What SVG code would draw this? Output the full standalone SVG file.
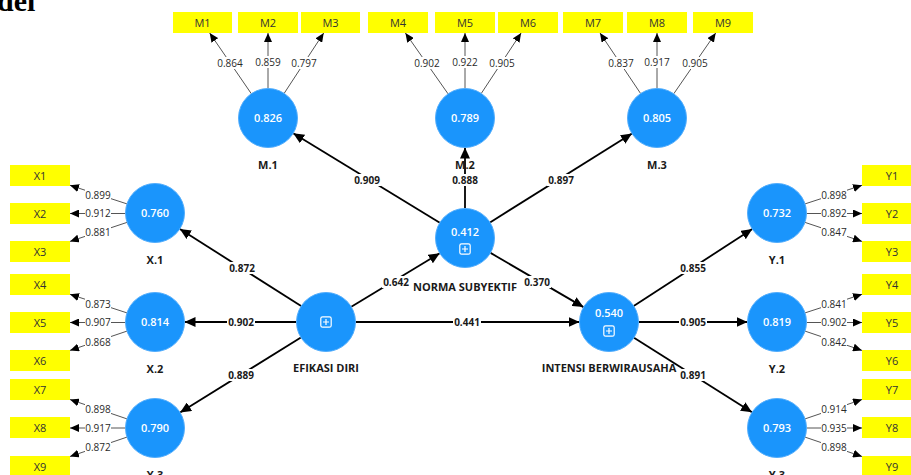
<svg xmlns="http://www.w3.org/2000/svg" width="911" height="475" viewBox="0 0 911 475">
<style>
text{font-family:"Open Sans","Noto Sans","Liberation Sans",sans-serif}
.ind{fill:#ffff00}
.it{font-size:11px;fill:#333;text-anchor:middle}
.lv{fill:#1a95fc;stroke:#52adfc;stroke-width:1}
.val{font-size:11px;font-weight:600;fill:#fff;text-anchor:middle}
.nl{font-size:11px;font-weight:700;fill:#1a1a1a;text-anchor:middle}
.path{stroke:#000;stroke-width:1.8;fill:none;marker-end:url(#ah)}
.load{stroke:#555;stroke-width:1;fill:none;marker-end:url(#ah2)}
.bg{fill:#fff}
.pl{font-size:10px;font-weight:700;fill:#1a1a1a;text-anchor:middle}
.ll{font-size:10px;fill:#2a2a2a;text-anchor:middle}
.ico{fill:none;stroke:#fff;stroke-width:1.2}
</style>
<defs>
<marker id="ah" markerUnits="userSpaceOnUse" markerWidth="12" markerHeight="10" refX="11" refY="5" orient="auto"><path d="M0,0 L11,5 L0,10 Z" fill="#000"/></marker>
<marker id="ah2" markerUnits="userSpaceOnUse" markerWidth="10" markerHeight="8" refX="9" refY="4" orient="auto"><path d="M0,0 L9,4 L0,8 Z" fill="#000"/></marker>
<symbol id="plus" viewBox="0 0 12 12"><rect class="ico" x="0.8" y="0.8" width="10.4" height="10.4" rx="1.8"/><path class="ico" d="M6,3 V9 M3,6 H9"/></symbol>
</defs>
<text x="-3" y="11" style="font-family:'Liberation Serif',serif;font-size:30px;font-weight:700" fill="#000">del</text>

<g id="connectors">
<line class="path" x1="301.1" y1="306.1" x2="179.9" y2="228.9"/>
<line class="path" x1="296.5" y1="322" x2="184.5" y2="322"/>
<line class="path" x1="300.9" y1="337.5" x2="180.1" y2="412.5"/>
<line class="path" x1="351.3" y1="306.7" x2="439.7" y2="253.3"/>
<line class="path" x1="355.5" y1="322" x2="579.5" y2="322"/>
<line class="path" x1="439.8" y1="222.7" x2="293.2" y2="133.3"/>
<line class="path" x1="465" y1="208.5" x2="465" y2="147.5"/>
<line class="path" x1="490.0" y1="222.4" x2="632.0" y2="133.6"/>
<line class="path" x1="490.5" y1="252.9" x2="583.5" y2="307.1"/>
<line class="path" x1="633.7" y1="306.0" x2="752.3" y2="229.0"/>
<line class="path" x1="638.5" y1="322" x2="747.5" y2="322"/>
<line class="path" x1="634.0" y1="337.7" x2="752.0" y2="412.3"/>

<line class="load" x1="251.3" y1="93.7" x2="209.7" y2="33"/>
<line class="load" x1="268" y1="88.5" x2="268" y2="33"/>
<line class="load" x1="284.2" y1="93.3" x2="323.7" y2="33"/>
<line class="load" x1="448.1" y1="93.9" x2="405.4" y2="33"/>
<line class="load" x1="465" y1="88.5" x2="465" y2="33"/>
<line class="load" x1="481.3" y1="93.4" x2="521.1" y2="33"/>
<line class="load" x1="640.6" y1="93.5" x2="600" y2="33"/>
<line class="load" x1="657" y1="88.5" x2="657" y2="33"/>
<line class="load" x1="673.8" y1="93.7" x2="715.7" y2="33"/>

<line class="load" x1="127" y1="203.9" x2="70" y2="185.3"/>
<line class="load" x1="125.5" y1="213.5" x2="70" y2="213.5"/>
<line class="load" x1="127" y1="222.4" x2="70" y2="241.4"/>
<line class="load" x1="127" y1="312.9" x2="70" y2="294.3"/>
<line class="load" x1="125.5" y1="322.5" x2="70" y2="322.5"/>
<line class="load" x1="127" y1="331.1" x2="70" y2="350.4"/>
<line class="load" x1="127" y1="418.9" x2="70" y2="399.5"/>
<line class="load" x1="125.5" y1="428" x2="70" y2="428"/>
<line class="load" x1="127" y1="437.1" x2="70" y2="456.5"/>

<line class="load" x1="805" y1="203.9" x2="862" y2="185.3"/>
<line class="load" x1="806.5" y1="213.5" x2="862" y2="213.5"/>
<line class="load" x1="805" y1="222.4" x2="862" y2="241.4"/>
<line class="load" x1="805" y1="312.9" x2="862" y2="294.3"/>
<line class="load" x1="806.5" y1="322.5" x2="862" y2="322.5"/>
<line class="load" x1="805" y1="331.1" x2="862" y2="350.4"/>
<line class="load" x1="805" y1="418.9" x2="862" y2="399.5"/>
<line class="load" x1="806.5" y1="428" x2="862" y2="428"/>
<line class="load" x1="805" y1="437.1" x2="862" y2="456.5"/>

<g id="path-labels">
<rect class="bg" x="228" y="262" width="28" height="12"/><text class="pl" x="242" y="272">0.872</text>
<rect class="bg" x="227" y="316" width="28" height="12"/><text class="pl" x="241" y="326">0.902</text>
<rect class="bg" x="227" y="369" width="28" height="12"/><text class="pl" x="241" y="379">0.889</text>
<rect class="bg" x="382" y="276" width="28" height="12"/><text class="pl" x="396" y="286">0.642</text>
<rect class="bg" x="453" y="316" width="28" height="12"/><text class="pl" x="467" y="326">0.441</text>
<rect class="bg" x="353" y="174" width="28" height="12"/><text class="pl" x="367" y="184">0.909</text>
<rect class="bg" x="451" y="174" width="28" height="12"/><text class="pl" x="465" y="184">0.888</text>
<rect class="bg" x="547" y="174" width="28" height="12"/><text class="pl" x="561" y="184">0.897</text>
<rect class="bg" x="523" y="276" width="28" height="12"/><text class="pl" x="537" y="286">0.370</text>
<rect class="bg" x="679" y="262" width="28" height="12"/><text class="pl" x="693" y="272">0.855</text>
<rect class="bg" x="679" y="316" width="28" height="12"/><text class="pl" x="693" y="326">0.905</text>
<rect class="bg" x="679" y="369" width="28" height="12"/><text class="pl" x="693" y="379">0.891</text>
</g>
<g id="loading-labels">
<rect class="bg" x="217" y="57" width="26" height="12"/><text class="ll" x="230" y="66.5">0.864</text>
<rect class="bg" x="255" y="56" width="26" height="12"/><text class="ll" x="268" y="65.5">0.859</text>
<rect class="bg" x="291" y="57" width="26" height="12"/><text class="ll" x="304" y="66.5">0.797</text>
<rect class="bg" x="414" y="57" width="26" height="12"/><text class="ll" x="427" y="66.5">0.902</text>
<rect class="bg" x="452" y="56" width="26" height="12"/><text class="ll" x="465" y="65.5">0.922</text>
<rect class="bg" x="489" y="57" width="26" height="12"/><text class="ll" x="502" y="66.5">0.905</text>
<rect class="bg" x="608" y="57" width="26" height="12"/><text class="ll" x="621" y="66.5">0.837</text>
<rect class="bg" x="644" y="56" width="26" height="12"/><text class="ll" x="657" y="65.5">0.917</text>
<rect class="bg" x="682" y="57" width="26" height="12"/><text class="ll" x="695" y="66.5">0.905</text>

<rect class="bg" x="85" y="189" width="26" height="12"/><text class="ll" x="98" y="198.5">0.899</text>
<rect class="bg" x="85" y="207.5" width="26" height="12"/><text class="ll" x="98" y="217">0.912</text>
<rect class="bg" x="85" y="226" width="26" height="12"/><text class="ll" x="98" y="235.5">0.881</text>
<rect class="bg" x="85" y="298" width="26" height="12"/><text class="ll" x="98" y="307.5">0.873</text>
<rect class="bg" x="85" y="316.5" width="26" height="12"/><text class="ll" x="98" y="326">0.907</text>
<rect class="bg" x="85" y="336" width="26" height="12"/><text class="ll" x="98" y="345.5">0.868</text>
<rect class="bg" x="85" y="403" width="26" height="12"/><text class="ll" x="98" y="412.5">0.898</text>
<rect class="bg" x="85" y="422" width="26" height="12"/><text class="ll" x="98" y="431.5">0.917</text>
<rect class="bg" x="85" y="441" width="26" height="12"/><text class="ll" x="98" y="450.5">0.872</text>

<rect class="bg" x="821" y="189" width="26" height="12"/><text class="ll" x="834" y="198.5">0.898</text>
<rect class="bg" x="821" y="207.5" width="26" height="12"/><text class="ll" x="834" y="217">0.892</text>
<rect class="bg" x="821" y="226" width="26" height="12"/><text class="ll" x="834" y="235.5">0.847</text>
<rect class="bg" x="821" y="298" width="26" height="12"/><text class="ll" x="834" y="307.5">0.841</text>
<rect class="bg" x="821" y="316.5" width="26" height="12"/><text class="ll" x="834" y="326">0.902</text>
<rect class="bg" x="821" y="336" width="26" height="12"/><text class="ll" x="834" y="345.5">0.842</text>
<rect class="bg" x="821" y="403" width="26" height="12"/><text class="ll" x="834" y="412.5">0.914</text>
<rect class="bg" x="821" y="422" width="26" height="12"/><text class="ll" x="834" y="431.5">0.935</text>
<rect class="bg" x="821" y="441" width="26" height="12"/><text class="ll" x="834" y="450.5">0.898</text>
</g>
</g>

<g id="M1"><rect class="ind" x="173" y="12" width="59" height="21"/><text class="it" x="202.5" y="26.5">M1</text></g>
<g id="M2"><rect class="ind" x="238" y="12" width="60" height="21"/><text class="it" x="268" y="26.5">M2</text></g>
<g id="M3"><rect class="ind" x="301" y="12" width="59" height="21"/><text class="it" x="330.5" y="26.5">M3</text></g>
<g id="M4"><rect class="ind" x="368" y="12" width="60" height="21"/><text class="it" x="398" y="26.5">M4</text></g>
<g id="M5"><rect class="ind" x="435" y="12" width="60" height="21"/><text class="it" x="465" y="26.5">M5</text></g>
<g id="M6"><rect class="ind" x="498" y="12" width="60" height="21"/><text class="it" x="528" y="26.5">M6</text></g>
<g id="M7"><rect class="ind" x="563" y="12" width="60" height="21"/><text class="it" x="593" y="26.5">M7</text></g>
<g id="M8"><rect class="ind" x="627" y="12" width="60" height="21"/><text class="it" x="657" y="26.5">M8</text></g>
<g id="M9"><rect class="ind" x="693" y="12" width="60" height="21"/><text class="it" x="723" y="26.5">M9</text></g>

<g id="X1"><rect class="ind" x="10" y="165" width="60" height="21"/><text class="it" x="40" y="179.5">X1</text></g>
<g id="X2"><rect class="ind" x="10" y="203" width="60" height="21"/><text class="it" x="40" y="217.5">X2</text></g>
<g id="X3"><rect class="ind" x="10" y="241" width="60" height="21"/><text class="it" x="40" y="255.5">X3</text></g>
<g id="X4"><rect class="ind" x="10" y="274" width="60" height="21"/><text class="it" x="40" y="288.5">X4</text></g>
<g id="X5"><rect class="ind" x="10" y="312" width="60" height="21"/><text class="it" x="40" y="326.5">X5</text></g>
<g id="X6"><rect class="ind" x="10" y="350" width="60" height="21"/><text class="it" x="40" y="364.5">X6</text></g>
<g id="X7"><rect class="ind" x="10" y="379" width="60" height="21"/><text class="it" x="40" y="393.5">X7</text></g>
<g id="X8"><rect class="ind" x="10" y="417" width="60" height="21"/><text class="it" x="40" y="431.5">X8</text></g>
<g id="X9"><rect class="ind" x="10" y="456" width="60" height="21"/><text class="it" x="40" y="470.5">X9</text></g>

<g id="Y1"><rect class="ind" x="862" y="165" width="60" height="21"/><text class="it" x="892" y="179.5">Y1</text></g>
<g id="Y2"><rect class="ind" x="862" y="203" width="60" height="21"/><text class="it" x="892" y="217.5">Y2</text></g>
<g id="Y3"><rect class="ind" x="862" y="241" width="60" height="21"/><text class="it" x="892" y="255.5">Y3</text></g>
<g id="Y4"><rect class="ind" x="862" y="274" width="60" height="21"/><text class="it" x="892" y="288.5">Y4</text></g>
<g id="Y5"><rect class="ind" x="862" y="312" width="60" height="21"/><text class="it" x="892" y="326.5">Y5</text></g>
<g id="Y6"><rect class="ind" x="862" y="350" width="60" height="21"/><text class="it" x="892" y="364.5">Y6</text></g>
<g id="Y7"><rect class="ind" x="862" y="379" width="60" height="21"/><text class="it" x="892" y="393.5">Y7</text></g>
<g id="Y8"><rect class="ind" x="862" y="417" width="60" height="21"/><text class="it" x="892" y="431.5">Y8</text></g>
<g id="Y9"><rect class="ind" x="862" y="456" width="60" height="21"/><text class="it" x="892" y="470.5">Y9</text></g>

<g id="M.1"><circle class="lv" cx="268" cy="118" r="29.5"/><text class="val" x="268" y="122">0.826</text><text class="nl" x="268" y="169">M.1</text></g>
<g id="M.2"><circle class="lv" cx="465" cy="118" r="29.5"/><text class="val" x="465" y="122">0.789</text><text class="nl" x="465" y="169">M.2</text></g>
<g id="M.3"><circle class="lv" cx="657" cy="118" r="29.5"/><text class="val" x="657" y="122">0.805</text><text class="nl" x="657" y="169">M.3</text></g>
<g id="X.1"><circle class="lv" cx="155" cy="213" r="29.5"/><text class="val" x="155" y="217">0.760</text><text class="nl" x="155" y="264">X.1</text></g>
<g id="X.2"><circle class="lv" cx="155" cy="322" r="29.5"/><text class="val" x="155" y="326">0.814</text><text class="nl" x="155" y="373">X.2</text></g>
<g id="X.3"><circle class="lv" cx="155" cy="428" r="29.5"/><text class="val" x="155" y="432">0.790</text><text class="nl" x="155" y="479">X.3</text></g>
<g id="Y.1"><circle class="lv" cx="777" cy="213" r="29.5"/><text class="val" x="777" y="217">0.732</text><text class="nl" x="777" y="264">Y.1</text></g>
<g id="Y.2"><circle class="lv" cx="777" cy="322" r="29.5"/><text class="val" x="777" y="326">0.819</text><text class="nl" x="777" y="373">Y.2</text></g>
<g id="Y.3"><circle class="lv" cx="777" cy="428" r="29.5"/><text class="val" x="777" y="432">0.793</text><text class="nl" x="777" y="479">Y.3</text></g>
<g id="NORMA_SUBYEKTIF"><circle class="lv" cx="465" cy="238" r="29.5"/><text class="val" x="465" y="236">0.412</text><use href="#plus" x="459" y="243" width="12" height="12"/><text class="nl" x="465" y="291">NORMA SUBYEKTIF</text></g>
<g id="EFIKASI_DIRI"><circle class="lv" cx="326" cy="322" r="29.5"/><use href="#plus" x="320" y="316" width="12" height="12"/><text class="nl" x="326" y="372">EFIKASI DIRI</text></g>
<g id="INTENSI_BERWIRAUSAHA"><circle class="lv" cx="609" cy="322" r="29.5"/><text class="val" x="609" y="317">0.540</text><use href="#plus" x="603" y="325" width="12" height="12"/><text class="nl" x="609" y="372">INTENSI BERWIRAUSAHA</text></g>
</svg>
